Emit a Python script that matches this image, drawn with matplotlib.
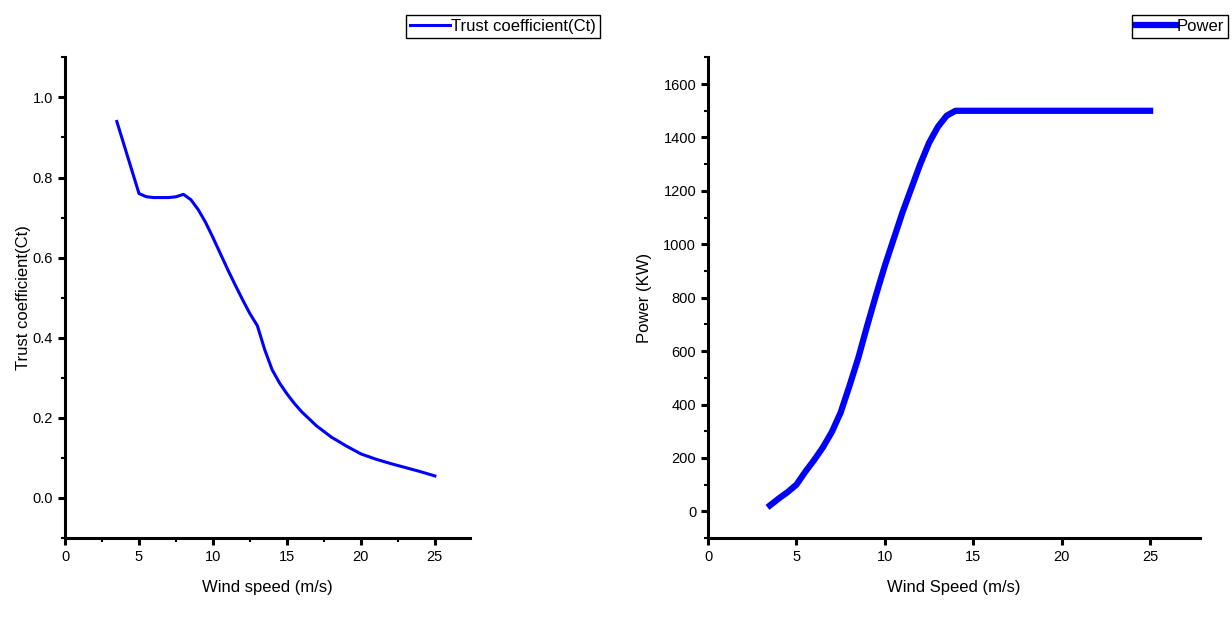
import numpy as np
import matplotlib.pyplot as plt
from matplotlib.ticker import MultipleLocator

plt.rcParams['font.family'] = ['Liberation Sans', 'DejaVu Sans']

# thrust coefficient curve
ct_speed = [3.5, 4, 4.5, 5, 5.5, 6, 6.5, 7, 7.5, 8, 8.5, 9, 9.5, 10, 10.5, 11,
            11.5, 12, 12.5, 13, 13.5, 14, 14.5, 15, 15.5, 16, 17, 18, 19, 20,
            21, 22, 23, 24, 25]
ct_value = [0.94, 0.88, 0.82, 0.76, 0.752, 0.75, 0.75, 0.75, 0.752, 0.758, 0.745,
            0.72, 0.688, 0.65, 0.61, 0.57, 0.532, 0.495, 0.46, 0.43, 0.37, 0.32,
            0.287, 0.26, 0.236, 0.215, 0.18, 0.152, 0.13, 0.11, 0.097, 0.086,
            0.076, 0.066, 0.055]

# power curve
p_speed = [3.5, 4, 4.5, 5, 5.5, 6, 6.5, 7, 7.5, 8, 8.5, 9, 9.5, 10, 10.5, 11,
           11.5, 12, 12.5, 13, 13.5, 14, 15, 16, 17, 18, 19, 20, 21, 22, 23,
           24, 25]
p_value = [22, 48, 72, 100, 148, 192, 240, 297, 370, 470, 575, 695, 810, 920,
           1020, 1120, 1210, 1300, 1380, 1440, 1482, 1500, 1500, 1500, 1500,
           1500, 1500, 1500, 1500, 1500, 1500, 1500, 1500]

fig = plt.figure(figsize=(12.32, 6.17), dpi=100)
ax1 = fig.add_axes([0.0528, 0.128, 0.329, 0.779])
ax2 = fig.add_axes([0.5747, 0.128, 0.399, 0.779])


def style(ax):
    for s in ['top', 'right']:
        ax.spines[s].set_visible(False)
    for s in ['left', 'bottom']:
        ax.spines[s].set_linewidth(2.2)
    ax.tick_params(which='major', direction='out', length=5, width=2.2, labelsize=10.5)
    ax.tick_params(which='minor', direction='out', length=3, width=1.5)


# left: Ct
ax1.plot(ct_speed, ct_value, color='#0000ff', lw=2.2, label='Trust coefficient(Ct)')
ax1.set_xlim(0, 27.4)
ax1.set_ylim(-0.1, 1.1)
ax1.xaxis.set_major_locator(MultipleLocator(5))
ax1.xaxis.set_minor_locator(MultipleLocator(2.5))
ax1.yaxis.set_minor_locator(MultipleLocator(0.1))
ax1.set_yticks([0, 0.2, 0.4, 0.6, 0.8, 1.0])
ax1.yaxis.set_major_formatter(plt.FormatStrFormatter('%.1f'))
ax1.set_xlabel('Wind speed (m/s)', fontsize=12, labelpad=12)
ax1.set_ylabel('Trust coefficient(Ct)', fontsize=12, labelpad=1)
style(ax1)
ax1.legend(loc='upper right', bbox_to_anchor=(0.487, 0.976), bbox_transform=fig.transFigure,
           fancybox=False, edgecolor='black', framealpha=1, fontsize=12,
           handlelength=2.4, handletextpad=0.05, borderpad=0.25, borderaxespad=0)

# right: power
ax2.plot(p_speed, p_value, color='#0000ff', lw=4.5, label='Power')
ax2.set_xlim(0, 27.8)
ax2.set_ylim(-100, 1700)
ax2.xaxis.set_major_locator(MultipleLocator(5))
ax2.yaxis.set_minor_locator(MultipleLocator(100))
ax2.set_yticks(np.arange(0, 1601, 200))
ax2.set_xlabel('Wind Speed (m/s)', fontsize=12, labelpad=12)
ax2.set_ylabel('Power (KW)', fontsize=12, labelpad=8)
style(ax2)
ax2.legend(loc='upper right', bbox_to_anchor=(0.997, 0.976), bbox_transform=fig.transFigure,
           fancybox=False, edgecolor='black', framealpha=1, fontsize=12,
           handlelength=2.4, handletextpad=0.05, borderpad=0.25, borderaxespad=0)

fig.savefig('out.png', dpi=100)
